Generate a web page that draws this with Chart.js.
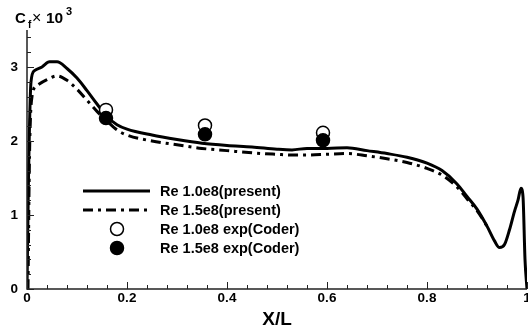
<!DOCTYPE html>
<html>
<head>
<meta charset="utf-8">
<script src="https://cdn.jsdelivr.net/npm/chart.js@4.4.1/dist/chart.umd.min.js"></script>
<style>
  html, body { margin: 0; padding: 0; background: #fff; }
  #wrap { width: 528px; height: 331px; position: relative; }
</style>
</head>
<body>
<div id="wrap"><canvas id="cfChart"></canvas></div>
<script>
// solid line, Re 1.0e8 (present)
const x1 = [0, 0.003, 0.008, 0.015, 0.03, 0.045, 0.06, 0.08, 0.1, 0.12, 0.14, 0.16, 0.18, 0.2, 0.25, 0.3, 0.35, 0.4, 0.45, 0.5, 0.53, 0.56, 0.6, 0.64, 0.68, 0.72, 0.76, 0.8, 0.83, 0.86, 0.88, 0.9, 0.92, 0.935, 0.945, 0.955, 0.965, 0.975, 0.982, 0.988, 0.992, 0.996, 1.0];
const cf1 = [0, 1.5, 2.8, 2.95, 3.0, 3.07, 3.07, 2.98, 2.85, 2.68, 2.5, 2.33, 2.22, 2.16, 2.08, 2.02, 1.97, 1.94, 1.92, 1.89, 1.88, 1.9, 1.9, 1.91, 1.87, 1.83, 1.78, 1.7, 1.6, 1.42, 1.25, 1.08, 0.85, 0.65, 0.56, 0.6, 0.8, 1.05, 1.2, 1.36, 1.25, 0.4, 0];
// dash-dot line, Re 1.5e8 (present)
const x2 = [0.002, 0.005, 0.01, 0.02, 0.04, 0.06, 0.08, 0.1, 0.12, 0.14, 0.16, 0.18, 0.2, 0.25, 0.3, 0.35, 0.4, 0.45, 0.5, 0.53, 0.56, 0.6, 0.64, 0.68, 0.72, 0.76, 0.8, 0.83, 0.86, 0.88, 0.9, 0.92];
const cf2 = [0, 1.8, 2.6, 2.75, 2.83, 2.88, 2.82, 2.7, 2.55, 2.4, 2.27, 2.15, 2.08, 2.0, 1.95, 1.9, 1.87, 1.84, 1.82, 1.81, 1.81, 1.82, 1.83, 1.8, 1.76, 1.71, 1.63, 1.54, 1.38, 1.22, 1.06, 0.85];
// experiments (Coder)
const xExp = [0.158, 0.356, 0.592];
const cfExp1 = [2.42, 2.21, 2.11];
const cfExp2 = [2.31, 2.09, 2.01];

const legendLabels = ["Re 1.0e8(present)", "Re 1.5e8(present)", "Re 1.0e8 exp(Coder)", "Re 1.5e8 exp(Coder)"];
const xMajor = [0, 0.2, 0.4, 0.6, 0.8, 1];
const xMajorLabels = ["0", "0.2", "0.4", "0.6", "0.8", "1"];
const yMajor = [0, 1, 2, 3];
const yMajorLabels = ["0", "1", "2", "3"];

const pts = (xs, ys) => xs.map((x, i) => ({ x: x, y: ys[i] }));
const FONT = "'Liberation Sans', Arial, sans-serif";

const axesPlugin = {
  id: "axesPlugin",
  afterDatasetsDraw(chart) {
    const ctx = chart.ctx;
    const xs = chart.scales.x, ys = chart.scales.y;
    const left = xs.getPixelForValue(0), right = xs.getPixelForValue(1);
    const bottom = ys.getPixelForValue(0), top = ys.getPixelForValue(3.5);
    ctx.save();
    ctx.strokeStyle = "#222";
    ctx.lineWidth = 1.5;
    ctx.beginPath();
    ctx.moveTo(left, top); ctx.lineTo(left, bottom); ctx.lineTo(right, bottom);
    ctx.stroke();
    ctx.lineWidth = 1;
    ctx.beginPath();
    for (let i = 0; i <= 25; i++) {
      const v = i * 0.04;
      const px = Math.round(xs.getPixelForValue(v)) + 0.5;
      const len = (i % 5 === 0) ? 7 : 4;
      ctx.moveTo(px, bottom); ctx.lineTo(px, bottom - len);
    }
    for (let i = 0; i <= 17; i++) {
      const v = i * 0.2;
      const py = Math.round(ys.getPixelForValue(v)) + 0.5;
      const len = (i % 5 === 0) ? 7 : 4;
      ctx.moveTo(left, py); ctx.lineTo(left + len, py);
    }
    ctx.stroke();
    ctx.fillStyle = "#000";
    ctx.font = "bold 13.5px " + FONT;
    ctx.textAlign = "center"; ctx.textBaseline = "top";
    xMajor.forEach((v, i) => ctx.fillText(xMajorLabels[i], xs.getPixelForValue(v), bottom + 3));
    ctx.textAlign = "right"; ctx.textBaseline = "middle";
    yMajor.forEach((v, i) => ctx.fillText(yMajorLabels[i], left - 9, ys.getPixelForValue(v)));
    // axis titles
    ctx.font = "bold 19px " + FONT;
    ctx.textAlign = "center"; ctx.textBaseline = "middle";
    ctx.fillText("X/L", (left + right) / 2, 320);
    ctx.textAlign = "left"; ctx.textBaseline = "alphabetic";
    ctx.font = "bold 15px " + FONT;
    ctx.fillText("C", 15, 23);
    ctx.font = "bold 10px " + FONT;
    ctx.fillText("f", 28, 28);
    ctx.font = "16px " + FONT;
    ctx.fillText("\u00d7", 32, 23);
    ctx.font = "bold 15.5px " + FONT;
    ctx.fillText("10", 46, 23);
    ctx.font = "bold 11px " + FONT;
    ctx.fillText("3", 66, 15);
    // legend
    const ds = chart.data.datasets;
    ctx.font = "bold 14.5px " + FONT;
    ctx.textBaseline = "middle";
    const rowY = [191, 210, 229, 248];
    for (let i = 0; i < 4; i++) {
      const d = ds[i], y = rowY[i];
      if (i < 2) {
        ctx.strokeStyle = d.borderColor;
        ctx.lineWidth = d.borderWidth;
        ctx.setLineDash(d.borderDash || []);
        ctx.beginPath(); ctx.moveTo(83, y); ctx.lineTo(150, y); ctx.stroke();
        ctx.setLineDash([]);
      } else {
        ctx.beginPath();
        ctx.arc(117, y, d.pointRadius, 0, Math.PI * 2);
        ctx.fillStyle = d.pointBackgroundColor;
        ctx.fill();
        ctx.lineWidth = d.pointBorderWidth;
        ctx.strokeStyle = d.pointBorderColor;
        ctx.stroke();
      }
      ctx.fillStyle = "#000";
      ctx.fillText(legendLabels[i], 160, y + 1);
    }
    ctx.restore();
  }
};

new Chart(document.getElementById("cfChart").getContext("2d"), {
  type: "scatter",
  data: {
    datasets: [
      {
        label: legendLabels[0],
        data: pts(x1, cf1),
        showLine: true,
        borderColor: "#000",
        borderWidth: 3,
        pointRadius: 0,
        cubicInterpolationMode: "monotone",
        order: 2
      },
      {
        label: legendLabels[1],
        data: pts(x2, cf2),
        showLine: true,
        borderColor: "#000",
        borderWidth: 3,
        borderDash: [10, 5, 3, 5],
        pointRadius: 0,
        cubicInterpolationMode: "monotone",
        order: 3
      },
      {
        label: legendLabels[2],
        data: pts(xExp, cfExp1),
        pointRadius: 6.5,
        pointBackgroundColor: "#fff",
        pointBorderColor: "#000",
        pointBorderWidth: 1.5,
        order: 1
      },
      {
        label: legendLabels[3],
        data: pts(xExp, cfExp2),
        pointRadius: 6.5,
        pointBackgroundColor: "#000",
        pointBorderColor: "#000",
        pointBorderWidth: 1.5,
        order: 0
      }
    ]
  },
  options: {
    responsive: true,
    maintainAspectRatio: false,
    animation: false,
    layout: { autoPadding: false, padding: { left: 27, right: 1, top: 30, bottom: 42 } },
    scales: {
      x: { type: "linear", min: 0, max: 1, display: false },
      y: { type: "linear", min: 0, max: 3.5, display: false }
    },
    plugins: { legend: { display: false }, tooltip: { enabled: false } }
  },
  plugins: [axesPlugin]
});
</script>
</body>
</html>
